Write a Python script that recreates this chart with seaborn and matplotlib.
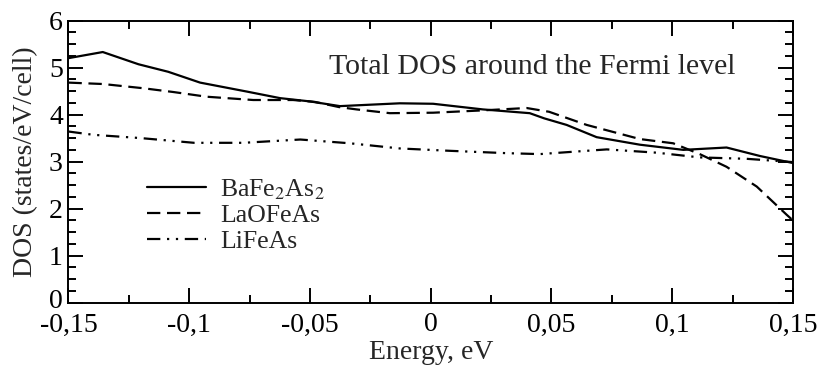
import numpy as np
import pandas as pd
import matplotlib
matplotlib.use("Agg")
import matplotlib.pyplot as plt
import matplotlib.transforms as mtransforms
import seaborn as sns
from matplotlib.ticker import MultipleLocator

# ---- data ----
series_names = ["BaFe$_2$As$_2$", "LaOFeAs", "LiFeAs"]

energy_ba = [-0.15, -0.1358, -0.121, -0.1087, -0.0955, -0.0762, -0.0624, -0.05, -0.0376,
             -0.0128, 0.001, 0.0216, 0.041, 0.047, 0.0563, 0.0687, 0.0866, 0.1046, 0.1225,
             0.1363, 0.15]
dos_ba = [5.20, 5.33, 5.07, 4.91, 4.68, 4.49, 4.35, 4.28, 4.18,
          4.24, 4.23, 4.11, 4.03, 3.92, 3.78, 3.52, 3.36, 3.25, 3.30,
          3.12, 2.97]

energy_la = [-0.15, -0.1357, -0.119, -0.1066, -0.0928, -0.0735, -0.057, -0.048, -0.038,
             -0.0307, -0.0169, 0.001, 0.0218, 0.0397, 0.049, 0.0646, 0.0866, 0.1004,
             0.1114, 0.1225, 0.135, 0.1474, 0.15]
dos_la = [4.68, 4.65, 4.56, 4.48, 4.38, 4.31, 4.31, 4.27, 4.16,
          4.11, 4.03, 4.04, 4.09, 4.14, 4.06, 3.78, 3.48, 3.39,
          3.16, 2.89, 2.47, 1.87, 1.75]

energy_li = [-0.15, -0.1397, -0.120, -0.098, -0.0776, -0.054, -0.0335, -0.0128, 0.0079,
             0.0314, 0.0452, 0.059, 0.0729, 0.0936, 0.1114, 0.1308, 0.15]
dos_li = [3.64, 3.57, 3.50, 3.40, 3.40, 3.47, 3.39, 3.28, 3.23,
          3.18, 3.16, 3.21, 3.26, 3.19, 3.09, 3.06, 2.99]

xticks = [-0.15, -0.1, -0.05, 0, 0.05, 0.1, 0.15]
xtick_labels = ["-0,15", "-0,1", "-0,05", "0", "0,05", "0,1", "0,15"]
yticks = [0, 1, 2, 3, 4, 5, 6]
title_text = "Total DOS around the Fermi level"
xlabel = "Energy, eV"
ylabel = "DOS (states/eV/cell)"

df = pd.concat([
    pd.DataFrame({"Energy": energy_ba, "DOS": dos_ba, "Material": series_names[0]}),
    pd.DataFrame({"Energy": energy_la, "DOS": dos_la, "Material": series_names[1]}),
    pd.DataFrame({"Energy": energy_li, "DOS": dos_li, "Material": series_names[2]}),
], ignore_index=True)

sns.set_theme(style="ticks")
plt.rcParams["font.family"] = ["Liberation Serif", "DejaVu Serif"]
plt.rcParams["mathtext.fontset"] = "stix"

fig = plt.figure(figsize=(8.23, 3.71), dpi=100)
ax = fig.add_axes([0.0832, 0.184, 0.8803, 0.7607])

palette = {n: "black" for n in series_names}
dashes = {series_names[0]: "", series_names[1]: (6, 3), series_names[2]: (6, 3, 1, 3, 1, 3)}

sns.lineplot(data=df, x="Energy", y="DOS", hue="Material", style="Material",
             palette=palette, dashes=dashes, estimator=None, sort=False,
             linewidth=1.6, legend=False, ax=ax)

ax.set_xlim(-0.15, 0.15)
ax.set_ylim(0, 6)
ax.set_xticks(xticks)
ax.set_xticklabels(xtick_labels)
ax.set_yticks(yticks)
ax.xaxis.set_minor_locator(MultipleLocator(0.025))
ax.yaxis.set_minor_locator(MultipleLocator(0.25))
ax.tick_params(which="both", direction="in", top=True, right=True, width=1.4,
               labelsize=20, colors="black")
ax.tick_params(axis="x", which="major", pad=7)
ax.tick_params(axis="y", which="major", pad=4)
ax.tick_params(which="major", length=11)
ax.tick_params(which="minor", length=6)
for s in ax.spines.values():
    s.set_linewidth(1.4)
    s.set_color("black")

# nudge the y "0" label up slightly so it just touches the "-0,15" label
ylab0 = ax.get_yticklabels()[0]
ylab0.set_transform(ylab0.get_transform() +
                    mtransforms.ScaledTranslation(0, 3 / 72, fig.dpi_scale_trans))

ax.set_xlabel(xlabel, fontsize=20, labelpad=2)
ax.set_ylabel(ylabel, fontsize=20, labelpad=8)

ax.text(0.64, 0.835, title_text, transform=ax.transAxes, ha="center", va="center",
        fontsize=21.5)

lines = ax.get_lines()[:3]
ax.legend(lines, series_names, loc="upper left", bbox_to_anchor=(0.108, 0.445),
          frameon=False, fontsize=18.5, handlelength=2.3, handletextpad=0.55,
          labelspacing=0.1, borderpad=0, borderaxespad=0)

fig.savefig("out.png", dpi=100)
